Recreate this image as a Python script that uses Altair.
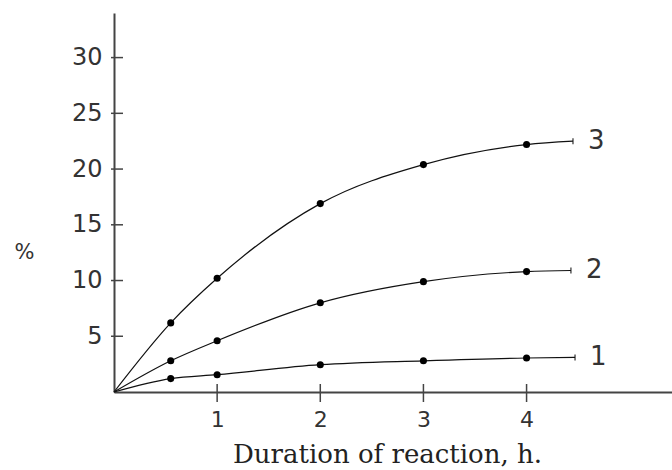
import altair as alt
import pandas as pd

# Data
curve_ids = ["1", "2", "3"]
hours = [0, 0.55, 1, 2, 3, 4]
end_hours = [4.47, 4.43, 4.45]
values_1 = [0, 1.2, 1.55, 2.45, 2.8, 3.05]
values_2 = [0, 2.8, 4.6, 8.0, 9.9, 10.8]
values_3 = [0, 6.2, 10.2, 16.9, 20.4, 22.2]
end_values = [3.1, 10.9, 22.5]

y_ticks = [5, 10, 15, 20, 25, 30]
x_ticks = [1, 2, 3, 4]

series = [values_1, values_2, values_3]
line_rows, point_rows, end_rows = [], [], []
for cid, vals, ex, ey in zip(curve_ids, series, end_hours, end_values):
    for h, v in zip(hours, vals):
        line_rows.append({"curve": cid, "h": h, "v": v})
        if h > 0:
            point_rows.append({"curve": cid, "h": h, "v": v})
    line_rows.append({"curve": cid, "h": ex, "v": ey})
    end_rows.append({"curve": cid, "h": ex, "v": ey})

lines_df = pd.DataFrame(line_rows)
points_df = pd.DataFrame(point_rows)
ends_df = pd.DataFrame(end_rows)
yt_df = pd.DataFrame({"v": y_ticks})
xt_df = pd.DataFrame({"h": x_ticks})

W, H = 558, 379
xs = alt.Scale(domain=[0, 5.41], nice=False, zero=False)
ys = alt.Scale(domain=[0, 34], nice=False, zero=False)

x_axis = alt.Axis(
    values=x_ticks, format="d", tickSize=0, grid=False, domainColor="#444", domainWidth=2,
    labelFont="DejaVu Sans", labelFontSize=22, labelColor="#333", labelPadding=17,
    title="Duration of reaction, h.", titleFont="DejaVu Serif", titleFontSize=26,
    titleFontWeight="normal", titleColor="#222", titleX=273, titleY=70,
    titleBaseline="alphabetic", titleAlign="center",
)
y_axis = alt.Axis(
    values=y_ticks, format="d", tickSize=0, grid=False, domainColor="#444", domainWidth=2,
    labelFont="DejaVu Sans", labelFontSize=24, labelColor="#333", labelPadding=12,
    title="%", titleFont="DejaVu Sans", titleFontSize=21, titleFontWeight="normal",
    titleColor="#333", titleAngle=0, titleX=-90, titleY=239, titleBaseline="middle",
    titleAlign="center",
)

base_lines = alt.Chart(lines_df).mark_line(
    interpolate="monotone", color="#111", strokeWidth=1.2
).encode(
    x=alt.X("h:Q", scale=xs, axis=x_axis),
    y=alt.Y("v:Q", scale=ys, axis=y_axis),
    detail="curve:N",
)

pts = alt.Chart(points_df).mark_circle(color="#000", size=50, opacity=1).encode(
    x=alt.X("h:Q", scale=xs), y=alt.Y("v:Q", scale=ys)
)

end_ticks = alt.Chart(ends_df).mark_tick(
    orient="vertical", size=6, thickness=1.5, color="#111"
).encode(x=alt.X("h:Q", scale=xs), y=alt.Y("v:Q", scale=ys))

labels = alt.Chart(ends_df).mark_text(
    align="left", baseline="middle", dx=15, font="DejaVu Sans", fontSize=26, color="#333"
).encode(x=alt.X("h:Q", scale=xs), y=alt.Y("v:Q", scale=ys), text="curve:N")

ytick_marks = alt.Chart(yt_df).mark_rule(color="#444", strokeWidth=1.5).encode(
    y=alt.Y("v:Q", scale=ys), x=alt.value(-3), x2=alt.value(9)
)
xtick_marks = alt.Chart(xt_df).mark_rule(color="#444", strokeWidth=1.5).encode(
    x=alt.X("h:Q", scale=xs), y=alt.value(H - 8), y2=alt.value(H + 10)
)

chart = alt.layer(
    base_lines, pts, end_ticks, labels, ytick_marks, xtick_marks
).properties(
    width=W, height=H,
    autosize=alt.AutoSizeParams(type="none"),
    padding={"left": 114, "top": 13, "right": 0, "bottom": 78},
    background="white",
).configure_view(stroke=None)

chart.save("out.html", embed_options={"renderer": "svg", "actions": False})
